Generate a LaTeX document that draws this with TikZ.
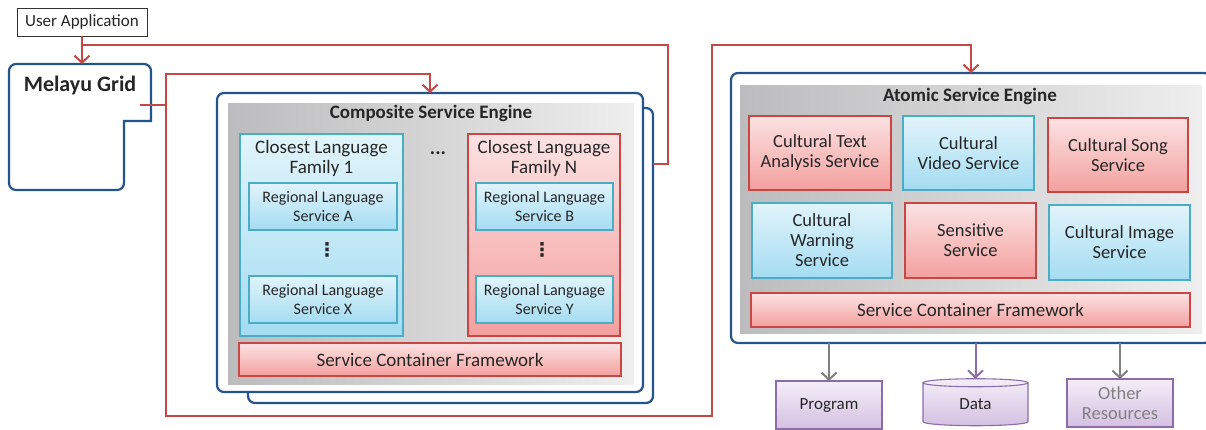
\documentclass[tikz,border=0pt]{standalone}
\usepackage{fontspec}
\setmainfont{Carlito}
\newfontfamily\symfont{DejaVu Sans}
\usetikzlibrary{arrows.meta,shapes.geometric}

\definecolor{engblue}{RGB}{36,84,140}
\definecolor{redL}{RGB}{196,72,70}
\definecolor{aquaB}{RGB}{75,172,198}
\definecolor{blueT}{RGB}{225,244,251}
\definecolor{blueB}{RGB}{164,220,242}
\definecolor{redB}{RGB}{200,70,68}
\definecolor{redT}{RGB}{252,226,227}
\definecolor{redBot}{RGB}{243,160,158}
\definecolor{purB}{RGB}{140,108,170}
\definecolor{purT}{RGB}{244,238,248}
\definecolor{purBot}{RGB}{212,192,226}
\definecolor{panelL}{RGB}{188,188,190}
\definecolor{panelR}{RGB}{238,238,238}
\definecolor{txt}{RGB}{38,38,38}
\definecolor{resgray}{RGB}{128,128,128}

\tikzset{
  every node/.style={outer sep=0pt,inner sep=0pt,text=txt,align=center},
  plain/.style={draw=black!80,line width=0.8pt,minimum width=130pt,minimum height=28pt,font=\fontsize{17}{19}\selectfont},
  engine/.style={draw=engblue,line width=2.2pt,rounded corners=7pt,fill=white},
  panel/.style={left color=panelL,right color=panelR},
  title/.style={font=\bfseries\fontsize{19}{21}\selectfont},
  bluebox/.style={draw=aquaB,line width=1.1pt,top color=blueT,bottom color=blueB},
  redbox/.style={draw=redB,line width=1.1pt,top color=redT,bottom color=redBot},
  resbox/.style={draw=purB,line width=1.1pt,top color=purT,bottom color=purBot},
  famtext/.style={font=\fontsize{19}{20}\selectfont},
  rls/.style={bluebox,minimum width=148pt,minimum height=47pt,font=\fontsize{16}{19}\selectfont},
  svc/.style={font=\fontsize{18.5}{20}\selectfont},
  scf/.style={redbox,font=\fontsize{19}{21}\selectfont},
  hd/.style={font=\bfseries\fontsize{20}{21}\selectfont},
  vd/.style={font=\symfont\bfseries\fontsize{19}{21}\selectfont},
  redln/.style={draw=redL,line width=2pt},
  redarr/.style={redln,-{Straight Barb[length=7pt,width=15pt,line width=2pt]}},
  greyarr/.style={draw=resgray,line width=2pt,-{Straight Barb[length=7pt,width=15pt,line width=2pt]}},
  purarr/.style={draw=purB,line width=2pt,-{Straight Barb[length=7pt,width=15pt,line width=2pt]}}
}

\begin{document}
\begin{tikzpicture}[x=1pt,y=-1pt]
  \path[use as bounding box] (0,0) rectangle (1206,429);
  \clip (0,0) rectangle (1206,429);
  % user side
  \node[plain] (ua) at (82,22) {User Application};
  \draw[engine,rounded corners=0pt] (124,121) -- (151,121) [rounded corners=7pt] -- (151,64) -- (9,64) -- (9,190) -- (124,190) [sharp corners] -- cycle;
  \node[font=\bfseries\fontsize{22}{24}\selectfont] (mg) at (80,86) {Melayu Grid};
  \coordinate (mgin) at (82,64);
  \coordinate (mgout) at (140,105);
  % composite service engine
  \node[engine,minimum width=405pt,minimum height=295pt] (cseback) at (450.5,255.5) {};
  \node[engine,minimum width=426pt,minimum height=299pt] (cse) at (430,242.5) {};
  \node[panel,minimum width=406pt,minimum height=281pt] (csepanel) at (431,243.5) {};
  \node[title] (csetitle) at (431,113) {Composite Service Engine};
  \node[bluebox,minimum width=163pt,minimum height=202pt] (fam1) at (321.5,235) {};
  \node[redbox,minimum width=152pt,minimum height=202pt] (famn) at (544,235) {};
  \node[famtext] (fam1txt) at (321.5,158) {Closest Language\\Family 1};
  \node[famtext] (famntxt) at (544,158) {Closest Language\\Family N};
  \node[hd] (hdots) at (438,153) {...};
  \node[rls] (rlsa) at (323,206.5) {Regional Language\\Service A};
  \node[rls] (rlsx) at (323,299.5) {Regional Language\\Service X};
  \node[rls,minimum width=137pt] (rlsb) at (544.5,206.5) {Regional Language\\Service B};
  \node[rls,minimum width=137pt] (rlsy) at (544.5,299.5) {Regional Language\\Service Y};
  \node[vd] (vd1) at (327,250) {⋮};
  \node[vd] (vd2) at (542,250) {⋮};
  \node[scf,minimum width=382pt,minimum height=33pt] (scf1) at (430,359.5) {Service Container Framework};
  % atomic service engine
  \node[engine,minimum width=480pt,minimum height=270pt] (ase) at (971,208) {};
  \node[panel,minimum width=462pt,minimum height=248pt] (asepanel) at (971,209) {};
  \node[title] (asetitle) at (970,96) {Atomic Service Engine};
  \node[redbox,svc,minimum width=142pt,minimum height=74pt] (cta) at (820,153) {Cultural Text\\Analysis Service};
  \node[bluebox,svc,minimum width=131pt,minimum height=74pt] (cvs) at (968.5,153) {Cultural\\Video Service};
  \node[redbox,svc,minimum width=140pt,minimum height=74pt] (css) at (1118,155) {Cultural Song\\Service};
  \node[bluebox,svc,minimum width=140pt,minimum height=75pt] (cws) at (822,240.5) {Cultural\\Warning\\Service};
  \node[redbox,svc,minimum width=131pt,minimum height=75pt] (sens) at (970.5,240.5) {Sensitive\\Service};
  \node[bluebox,svc,minimum width=141pt,minimum height=75pt] (cis) at (1119.5,242.5) {Cultural Image\\Service};
  \node[scf,minimum width=439pt,minimum height=34pt] (scf2) at (970.5,310) {Service Container Framework};
  % resources
  \node[resbox,minimum width=106pt,minimum height=48pt,font=\fontsize{17}{19}\selectfont] (prog) at (829,405) {Program};
  \node[resbox,cylinder,shape border rotate=90,aspect=0.25,minimum width=105pt,minimum height=47pt,font=\fontsize{17}{19}\selectfont] (data) at (975.5,404.5) {Data};
  \node[resbox,minimum width=106pt,minimum height=48pt,font=\fontsize{18.5}{20}\selectfont,text=resgray] (other) at (1120,403) {Other\\Resources};
  \draw[greyarr] (prog.north |- ase.south) -- (prog.north);
  \draw[purarr] (data.north |- ase.south) -- (data.north);
  \draw[greyarr] (other.north |- ase.south) -- (other.north);
  % request lines
  \draw[redarr] (ua) -- (mgin);
  \draw[redln] ([yshift=-9pt]ua.south) -| (668,164) -- (cseback.east |- 668,164);
  \draw[redln] (mgout) -- (166,105);
  \draw[redarr] (166,105) |- (cse.north |- 0,74) -- (cse.north);
  \draw[redarr] (166,105) |- (712,416) |- (ase.north |- 0,45) -- (ase.north);
\end{tikzpicture}
\end{document}
